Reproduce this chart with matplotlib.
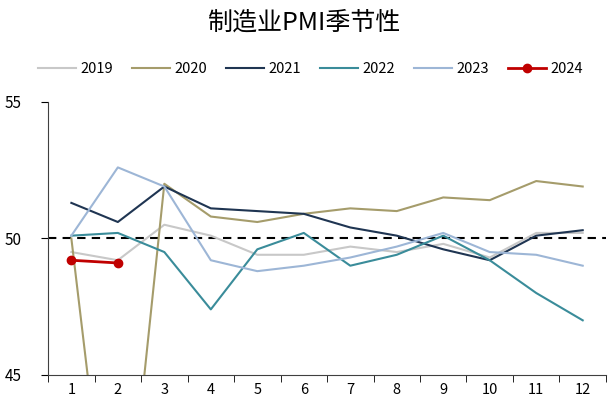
import matplotlib
matplotlib.use('Agg')
import matplotlib.pyplot as plt
import numpy as np

plt.rcParams['font.family'] = ['Noto Sans CJK SC', 'DejaVu Sans']

# 月份与各年PMI数据
months = list(range(1, 13))
pmi_2019 = [49.5, 49.2, 50.5, 50.1, 49.4, 49.4, 49.7, 49.5, 49.8, 49.3, 50.2, 50.2]
pmi_2020 = [50.0, 35.7, 52.0, 50.8, 50.6, 50.9, 51.1, 51.0, 51.5, 51.4, 52.1, 51.9]
pmi_2021 = [51.3, 50.6, 51.9, 51.1, 51.0, 50.9, 50.4, 50.1, 49.6, 49.2, 50.1, 50.3]
pmi_2022 = [50.1, 50.2, 49.5, 47.4, 49.6, 50.2, 49.0, 49.4, 50.1, 49.2, 48.0, 47.0]
pmi_2023 = [50.1, 52.6, 51.9, 49.2, 48.8, 49.0, 49.3, 49.7, 50.2, 49.5, 49.4, 49.0]
pmi_2024 = [49.2, 49.1]

fig = plt.figure(figsize=(6.09, 4.01), dpi=100)
ax = fig.add_axes([0.079, 0.065, 0.916, 0.681])

ax.plot(months, pmi_2019, color='#c8c8c8', lw=1.5, label='2019')
ax.plot(months, pmi_2020, color='#a59c6b', lw=1.5, label='2020')
ax.plot(months, pmi_2021, color='#1f3552', lw=1.5, label='2021')
ax.plot(months, pmi_2022, color='#3a8c9a', lw=1.5, label='2022')
ax.plot(months, pmi_2023, color='#9db6d6', lw=1.5, label='2023')
ax.plot(months[:len(pmi_2024)], pmi_2024, color='#c00000', lw=2, marker='o', ms=6, label='2024')

# 50荣枯线
ax.axhline(50, color='black', ls=(0, (4, 3)), lw=1.5, zorder=1)

ax.set_xlim(0.5, 12.5)
ax.set_ylim(45, 55)
ax.set_yticks([45, 50, 55])
ax.set_xticks(months)
ax.set_xticks(np.arange(0.5, 13, 1), minor=True)
ax.tick_params(axis='x', which='major', length=0, labelsize=10.5, pad=6)
ax.tick_params(axis='x', which='minor', length=5, direction='out')
ax.tick_params(axis='y', length=5, labelsize=11, pad=14)
for s in ['top', 'right']:
    ax.spines[s].set_visible(False)
ax.spines['left'].set_color('#404040')
ax.spines['bottom'].set_color('#404040')

fig.suptitle('制造业PMI季节性', y=0.975, fontsize=18)
fig.legend(loc='center', bbox_to_anchor=(0.51, 0.827), ncol=6, frameon=False,
           fontsize=10.5, handlelength=2.6, columnspacing=1.3, handletextpad=0.3)

fig.savefig('out.png', dpi=100)
